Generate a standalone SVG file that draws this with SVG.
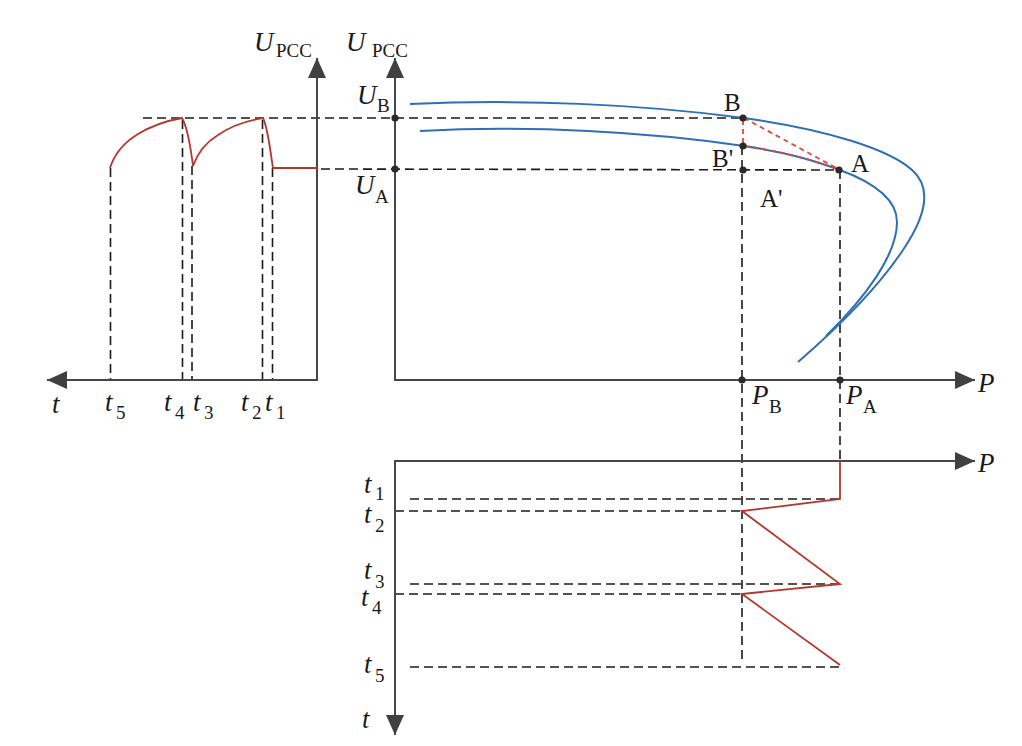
<svg xmlns="http://www.w3.org/2000/svg" width="1022" height="746" viewBox="0 0 1022 746">
<style>
.ax{stroke:#474747;stroke-width:2;fill:none}
.dash{stroke:#1a1a1a;stroke-width:1.6;stroke-dasharray:9,5;fill:none}
.red{stroke:#b5372c;stroke-width:1.8;fill:none}
.rdash{stroke:#e0463a;stroke-width:1.8;stroke-dasharray:5,4;fill:none}
.blue{stroke:#2f6fb3;stroke-width:2;fill:none}
.dot{fill:#2a2a2a}
text{font-family:"Liberation Serif","Times New Roman",serif;fill:#1a1a1a}
.it{font-style:italic;font-size:27px}
.sub{font-size:19px}
.lb{font-size:25px}
</style>
<defs>
<marker id="arr" markerUnits="userSpaceOnUse" markerWidth="22" markerHeight="20" refX="20" refY="9" orient="auto">
<path d="M0,0 L20,9 L0,18 z" fill="#404040"/>
</marker>
</defs>

<g id="guides">
<line class="dash" x1="143" y1="118" x2="742" y2="118"/>
<line class="dash" x1="321" y1="169" x2="840" y2="170"/>
<line class="dash" x1="110.5" y1="168" x2="110.5" y2="380"/>
<line class="dash" x1="182.5" y1="120" x2="182.5" y2="380"/>
<line class="dash" x1="192" y1="166" x2="192" y2="380"/>
<line class="dash" x1="262.5" y1="120" x2="262.5" y2="380"/>
<line class="dash" x1="272.5" y1="168" x2="272.5" y2="380"/>
<line class="dash" x1="742" y1="146" x2="742" y2="662"/>
<line class="dash" x1="840" y1="170" x2="840" y2="461"/>
<line class="dash" x1="410" y1="499" x2="840" y2="499"/>
<line class="dash" x1="395" y1="511" x2="742" y2="511"/>
<line class="dash" x1="410" y1="584" x2="840" y2="584"/>
<line class="dash" x1="395" y1="594" x2="742" y2="594"/>
<line class="dash" x1="410" y1="667" x2="840" y2="667"/>
</g>

<g id="axes">
<line class="ax" x1="318" y1="380" x2="47" y2="380" marker-end="url(#arr)"/>
<line class="ax" x1="317" y1="381" x2="317" y2="58" marker-end="url(#arr)"/>
<line class="ax" x1="395" y1="381" x2="395" y2="58" marker-end="url(#arr)"/>
<line class="ax" x1="394" y1="380" x2="975" y2="380" marker-end="url(#arr)"/>
<line class="ax" x1="394" y1="461" x2="975" y2="461" marker-end="url(#arr)"/>
<line class="ax" x1="395" y1="460" x2="395" y2="735" marker-end="url(#arr)"/>
</g>

<g id="curves">
<path class="blue" d="M410,104 C520,99 640,104 744,118 C830,130 890,150 912,170 C935,190 922,222 903,250 C875,292 835,330 798,362"/>
<path class="blue" d="M420,131 C530,125 650,132 744,146 C790,153 815,161 840,170 C875,183 897,200 897,222 C897,255 865,298 826,336"/>
<path class="red" d="M317,168 L273,168 C270,150 268,128 263,118 C245,121 228,128 218,135 C208,141 198,152 193,166 C191,150 188,128 182,118 C165,121 148,128 138,134 C125,142 115,152 110,168"/>
<polyline class="red" points="840,461 840,499 742,511 840,584 742,594 840,665"/>
<line class="rdash" x1="744" y1="118" x2="840" y2="170"/>
<line class="rdash" x1="743" y1="120" x2="743" y2="146"/>
<path class="rdash" d="M744,146 C790,153 815,161 840,170"/>
</g>

<g id="points">
<circle class="dot" cx="395" cy="118" r="3.6"/>
<circle class="dot" cx="395" cy="169" r="3.6"/>
<circle class="dot" cx="743" cy="118" r="3.6"/>
<circle class="dot" cx="743" cy="146" r="3.6"/>
<circle class="dot" cx="743" cy="170" r="3.6"/>
<circle class="dot" cx="839" cy="170" r="3.6"/>
<circle class="dot" cx="742" cy="380" r="3.6"/>
<circle class="dot" cx="840" cy="380" r="3.6"/>
</g>

<g id="labels">
<text class="it" x="254" y="51">U</text><text class="sub" x="276" y="57">PCC</text>
<text class="it" x="346" y="51">U</text><text class="sub" x="372" y="57">PCC</text>
<text class="it" x="357" y="104">U</text><text class="sub" x="377" y="112">B</text>
<text class="it" x="355" y="194">U</text><text class="sub" x="375" y="203">A</text>
<text class="lb" x="724" y="111">B</text>
<text class="lb" x="712" y="167">B'</text>
<text class="lb" x="851" y="172">A</text>
<text class="lb" x="760" y="207">A'</text>
<text class="it" x="752" y="404">P</text><text class="sub" x="769" y="413">B</text>
<text class="it" x="846" y="404">P</text><text class="sub" x="863" y="413">A</text>
<text class="it" x="978" y="392">P</text>
<text class="it" x="978" y="472">P</text>
<text class="it" x="52" y="413">t</text>
<text class="it" x="105" y="411">t</text><text class="sub" x="116" y="419">5</text>
<text class="it" x="164" y="411">t</text><text class="sub" x="175" y="419">4</text>
<text class="it" x="193" y="411">t</text><text class="sub" x="204" y="419">3</text>
<text class="it" x="241" y="411">t</text><text class="sub" x="252" y="419">2</text>
<text class="it" x="265" y="411">t</text><text class="sub" x="276" y="419">1</text>
<text class="it" x="364" y="493">t</text><text class="sub" x="375" y="500">1</text>
<text class="it" x="364" y="523">t</text><text class="sub" x="375" y="532">2</text>
<text class="it" x="364" y="579">t</text><text class="sub" x="375" y="588">3</text>
<text class="it" x="361" y="606">t</text><text class="sub" x="372" y="614">4</text>
<text class="it" x="364" y="673">t</text><text class="sub" x="375" y="682">5</text>
<text class="it" x="362" y="728">t</text>
</g>
</svg>
